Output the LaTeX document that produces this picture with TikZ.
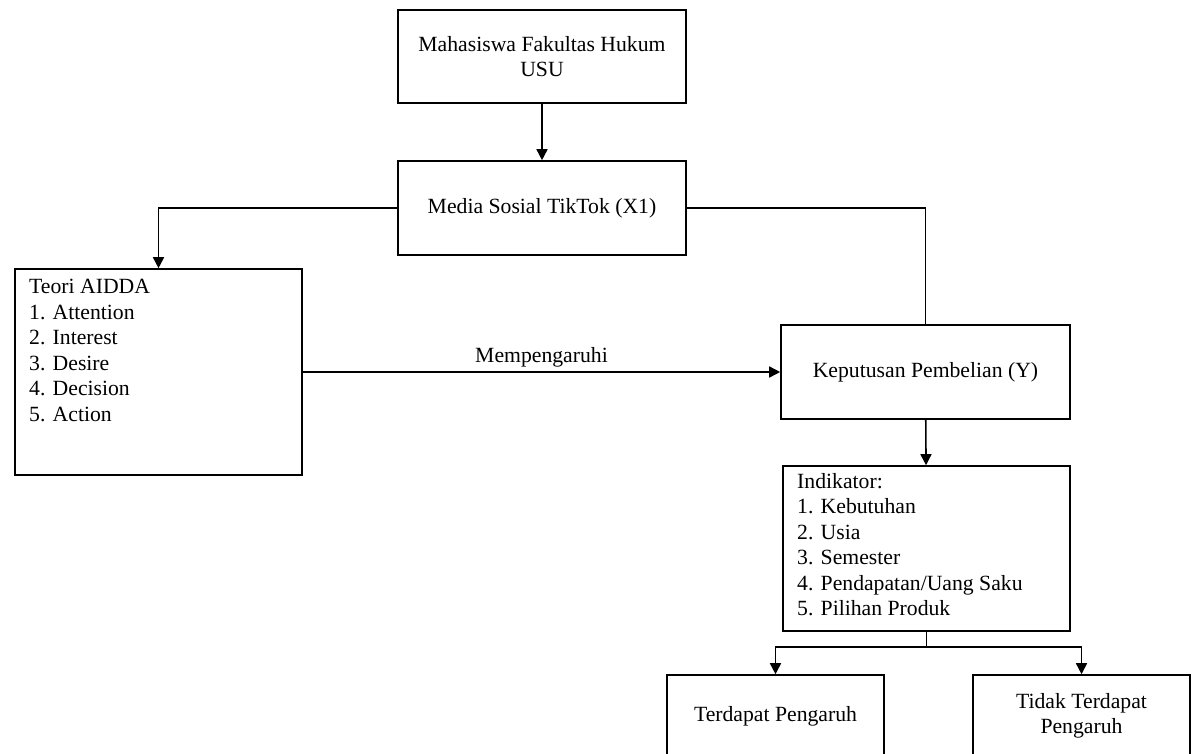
\documentclass[tikz,border=0pt]{standalone}
\usepackage{fontspec}
\setmainfont{Liberation Serif}
\usetikzlibrary{arrows.meta}
\newcommand\diafont{\fontsize{21.7}{25.5}\selectfont}
\begin{document}
\begin{tikzpicture}[x=1pt,y=-1pt,
  box/.style={draw, line width=1.6pt, inner sep=0pt, font=\diafont, align=center},
  lst/.style={inner sep=0pt, anchor=north west, align=left, font=\diafont},
  ln/.style={line width=1.6pt},
  arr/.style={line width=1.6pt, -{Triangle[length=11pt,width=11pt]}}]
\useasboundingbox (0,0) rectangle (1198,753);
\clip (0,0) rectangle (1198,753);
\node[box, minimum width=288pt, minimum height=93pt] (mhs) at (542,56.5) {Mahasiswa Fakultas Hukum\\USU};
\node[box, minimum width=288pt, minimum height=94pt] (med) at (542,208) {Media Sosial TikTok (X1)};
\node[box, minimum width=287pt, minimum height=206pt] (aid) at (158.5,372) {};
\node[lst] (aidt) at (29,279) {Teori AIDDA\\1. Attention\\2. Interest\\3. Desire\\4. Decision\\5. Action};
\node[box, minimum width=289pt, minimum height=94pt] (kep) at (925.5,372) {Keputusan Pembelian (Y)};
\node[box, minimum width=287pt, minimum height=165pt] (ind) at (926.5,548.5) {};
\node[lst] (indt) at (797,473) {Indikator:\\1. Kebutuhan\\2. Usia\\3. Semester\\4. Pendapatan/Uang Saku\\5. Pilihan Produk};
\node[box, minimum width=217pt, minimum height=82pt] (ter) at (775.5,716) {Terdapat Pengaruh};
\node[box, minimum width=217pt, minimum height=82pt] (tid) at (1081.5,716) {Tidak Terdapat\\Pengaruh};
\draw[arr] (mhs) -- (med);
\draw[arr] (med.west) -| (aid.north);
\draw[ln] (med.east) -| (kep.north);
\draw[arr] (aid.east) -- node[above, font=\diafont, inner sep=4pt] {Mempengaruhi} (kep.west);
\draw[arr] (kep) -- (ind);
\coordinate (br) at (ind.south |- 0,647);
\draw[ln] (ind.south) -- (br);
\draw[arr] (br) -| (ter.north);
\draw[arr] (br) -| (tid.north);
\end{tikzpicture}
\end{document}
